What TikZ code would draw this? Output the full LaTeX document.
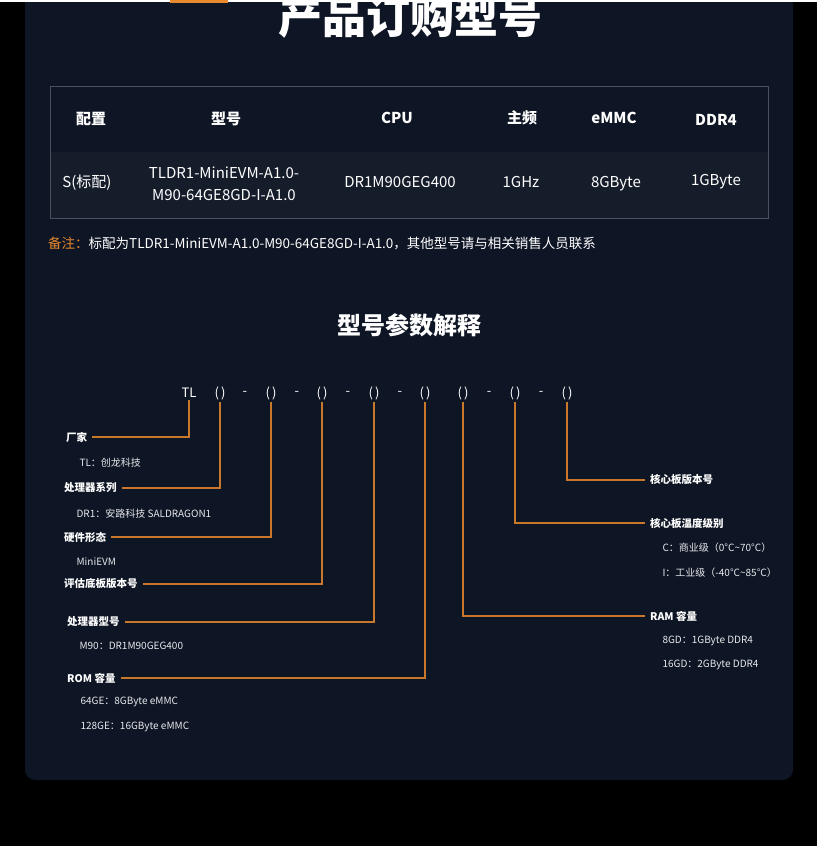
\documentclass[tikz,border=0pt]{standalone}
\usepackage{fontspec}
\setmainfont{Noto Sans CJK SC}
\definecolor{panel}{HTML}{0E1524}
\definecolor{rowb}{HTML}{151C2A}
\definecolor{org}{HTML}{C8782A}
\definecolor{orgt}{HTML}{E8892E}
\definecolor{txt}{HTML}{E6E8EC}
\definecolor{gridc}{HTML}{4A505C}
\tikzset{
  lbl/.style={anchor=west,text=white,font=\fontsize{10.5}{12}\selectfont\bfseries,inner sep=5pt},
  sub/.style={anchor=west,text=txt,font=\fontsize{10}{12}\selectfont},
  cell/.style={text=white,font=\fontsize{15}{22}\selectfont,align=center},
  hcell/.style={text=white,font=\fontsize{15}{17}\selectfont\bfseries},
  code/.style={text=white,font=\fontsize{13}{14}\selectfont,inner sep=2pt},
  conn/.style={draw=org,line width=1.2pt}
}
\begin{document}
\begin{tikzpicture}[x=1pt,y=-1pt]
\useasboundingbox (0,0) rectangle (817,846);
\fill[black] (0,0) rectangle (817,846);
\fill[panel,rounded corners=10pt] (25,-20) rectangle (793,780);
\fill[white] (0,0) rectangle (817,2);
\fill[orgt] (170,0) rectangle (228,3);
\node[text=white,font=\fontsize{44}{48}\selectfont\bfseries] (title) at (410,17) {产品订购型号};
% table
\fill[rowb] (50,152) rectangle (768,218);
\draw[gridc,line width=0.8pt] (50,86) rectangle (768,218);
\node[hcell] (h1) at (91,119) {配置};
\node[hcell] (h2) at (226,119) {型号};
\node[hcell] (h3) at (397,118) {CPU};
\node[hcell] (h4) at (522,118) {主频};
\node[hcell] (h5) at (614,118) {eMMC};
\node[hcell] (h6) at (716,120) {DDR4};
\node[cell] (c1) at (87,183) {S(标配)};
\node[cell] (c2) at (224,184) {TLDR1-MiniEVM-A1.0-\\M90-64GE8GD-I-A1.0};
\node[cell] (c3) at (400,182) {DR1M90GEG400};
\node[cell] (c4) at (521,182) {1GHz};
\node[cell] (c5) at (616,184) {8GByte};
\node[cell] (c6) at (716,182) {1GByte};
\node[anchor=west,inner sep=0,font=\fontsize{13.5}{15}\selectfont] (note) at (48,244) {\textcolor{orgt}{备注：}\textcolor{white}{标配为TLDR1-MiniEVM-A1.0-M90-64GE8GD-I-A1.0，其他型号请与相关销售人员联系}};
\node[text=white,font=\fontsize{24}{26}\selectfont\bfseries] (sub) at (409,325) {型号参数解释};
% code
\node[code] (tl) at (189,393) {TL};
\foreach \n/\x in {1/220,2/271,3/322,4/374,5/425,6/463,7/515,8/567}{
  \node[code] (p\n) at (\x,393) {(\,)};}
\foreach \n/\x in {1/245,2/297,3/348,4/400,5/489,6/541}{
  \node[code] (d\n) at (\x,393) {-};}
% labels left
\node[lbl] (l0) at (61,437) {厂家};
\node[sub] (s0) at (76,463) {TL：创龙科技};
\node[lbl] (l1) at (59,488) {处理器系列};
\node[sub] (s1) at (73,514) {DR1：安路科技 SALDRAGON1};
\node[lbl] (l2) at (59,537) {硬件形态};
\node[sub] (s2) at (73,562) {MiniEVM};
\node[lbl] (l3) at (59,584) {评估底板版本号};
\node[lbl] (l4) at (62,622) {处理器型号};
\node[sub] (s4) at (76,646) {M90：DR1M90GEG400};
\node[lbl] (l5) at (62,678) {ROM 容量};
\node[sub] (s5a) at (77,702) {64GE：8GByte eMMC};
\node[sub] (s5b) at (77,727) {128GE：16GByte eMMC};
% labels right
\node[lbl] (r8) at (645,480) {核心板版本号};
\node[lbl] (r7) at (645,523) {核心板温度级别};
\node[sub] (t7a) at (659,548) {C：商业级（0°C\textasciitilde70°C）};
\node[sub] (t7b) at (659,573) {I：工业级（-40°C\textasciitilde85°C）};
\node[lbl] (r6) at (645,616) {RAM 容量};
\node[sub] (t6a) at (659,641) {8GD：1GByte DDR4};
\node[sub] (t6b) at (659,665) {16GD：2GByte DDR4};
% connectors
\draw[conn] (tl.south) |- (l0.east);
\draw[conn] (p1.south) |- (l1.east);
\draw[conn] (p2.south) |- (l2.east);
\draw[conn] (p3.south) |- (l3.east);
\draw[conn] (p4.south) |- (l4.east);
\draw[conn] (p5.south) |- (l5.east);
\draw[conn] (p6.south) |- (r6.west);
\draw[conn] (p7.south) |- (r7.west);
\draw[conn] (p8.south) |- (r8.west);
\end{tikzpicture}
\end{document}
